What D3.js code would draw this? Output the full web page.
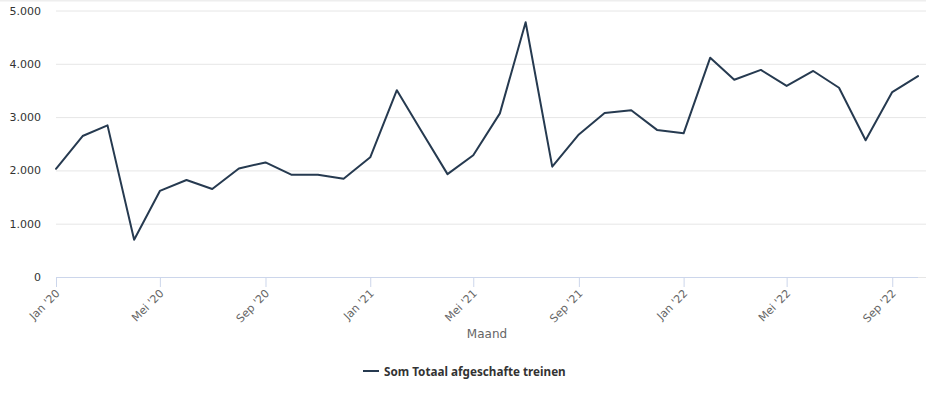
<!DOCTYPE html>
<html>
<head>
<meta charset="utf-8">
<script src="https://cdn.jsdelivr.net/npm/d3@7"></script>
<style>
  body { margin: 0; background: #fff; }
  svg { display: block; font-family: "DejaVu Sans", sans-serif; }
</style>
</head>
<body>
<div id="root"></div>
<script>
const width = 926;
const height = 395;

// months Jan '20 .. Oct '22
const months = [
  "2020-01", "2020-02", "2020-03", "2020-04", "2020-05", "2020-06",
  "2020-07", "2020-08", "2020-09", "2020-10", "2020-11", "2020-12",
  "2021-01", "2021-02", "2021-03", "2021-04", "2021-05", "2021-06",
  "2021-07", "2021-08", "2021-09", "2021-10", "2021-11", "2021-12",
  "2022-01", "2022-02", "2022-03", "2022-04", "2022-05", "2022-06",
  "2022-07", "2022-08", "2022-09", "2022-10"
];
const afgeschafte = [
  2030, 2645, 2845, 700, 1615, 1820, 1650, 2035, 2150, 1920, 1920, 1845,
  2245, 3505, 2755, 1930, 2285, 3070, 4780, 2070, 2675, 3075, 3130, 2760,
  2695, 4115, 3700, 3885, 3585, 3865, 3550, 2565, 3470, 3770
];
const yTicks = [0, 1000, 2000, 3000, 4000, 5000];
const monthNames = ["Jan", "Feb", "Mrt", "Apr", "Mei", "Jun", "Jul", "Aug", "Sep", "Okt", "Nov", "Dec"];
const seriesName = "Som Totaal afgeschafte treinen";
const xTitle = "Maand";

const parse = d3.timeParse("%Y-%m");
const data = months.map((m, i) => ({ date: parse(m), value: afgeschafte[i] }));

const margin = { top: 10.5, right: 8, bottom: 118, left: 56 };

const x = d3.scaleTime()
  .domain(d3.extent(data, d => d.date))
  .range([margin.left, width - margin.right]);

const y = d3.scaleLinear()
  .domain([0, 5000])
  .range([height - margin.bottom, margin.top]);

const fmt = d3.formatLocale({ decimal: ",", thousands: ".", grouping: [3], currency: ["€", ""] }).format(",d");

const svg = d3.select("#root")
  .append("svg")
  .attr("width", width)
  .attr("height", height);

// faint top border
svg.append("rect")
  .attr("x", 0).attr("y", 0)
  .attr("width", width).attr("height", 1.5)
  .attr("fill", "#eeeeee");

// grid + y labels
const yAxis = svg.append("g")
  .attr("transform", `translate(${margin.left},0)`)
  .call(d3.axisLeft(y).tickValues(yTicks).tickFormat(fmt)
    .tickSize(-(width - margin.left)).tickPadding(15));
yAxis.select(".domain").remove();
yAxis.selectAll(".tick line").attr("stroke", "#e6e6e6");
yAxis.selectAll(".tick text")
  .attr("fill", "#333")
  .attr("font-size", 11)
  .attr("font-family", "DejaVu Sans, sans-serif");

// x axis
const xTickDates = d3.timeMonth.every(4).range(data[0].date, d3.timeDay.offset(data[data.length - 1].date, 1));
const xAxis = svg.append("g")
  .attr("transform", `translate(0,${y(0)})`)
  .call(d3.axisBottom(x).tickValues(xTickDates)
    .tickFormat(d => `${monthNames[d.getMonth()]} '${String(d.getFullYear()).slice(2)}`)
    .tickSize(10).tickSizeOuter(0));
xAxis.select(".domain").attr("stroke", "#ccd6eb").attr("d", `M${margin.left},0.5H${width - margin.right}`);
xAxis.selectAll(".tick line").attr("stroke", "#ccd6eb");
xAxis.selectAll(".tick text")
  .attr("fill", "#666")
  .attr("font-size", 11)
  .attr("font-family", "DejaVu Sans, sans-serif")
  .attr("text-anchor", "end")
  .attr("dy", null)
  .attr("y", 0)
  .attr("transform", "translate(4,17) rotate(-45)");

svg.append("text")
  .attr("x", (margin.left + width - margin.right) / 2)
  .attr("y", 338)
  .attr("text-anchor", "middle")
  .attr("fill", "#666")
  .attr("font-size", 12)
  .text(xTitle);

// series line
const line = d3.line()
  .x(d => x(d.date))
  .y(d => y(d.value));

svg.append("path")
  .datum(data)
  .attr("fill", "none")
  .attr("stroke", "#263a50")
  .attr("stroke-width", 2)
  .attr("stroke-linejoin", "round")
  .attr("stroke-linecap", "round")
  .attr("d", line);

// legend
const legend = svg.append("g").attr("transform", "translate(363,371)");
legend.append("line")
  .attr("x1", 0).attr("x2", 16)
  .attr("stroke", "#263a50")
  .attr("stroke-width", 2);
legend.append("text")
  .attr("x", 21)
  .attr("y", 5)
  .attr("fill", "#333")
  .attr("font-size", 11.7)
  .attr("font-weight", "bold")
  .attr("font-family", "Noto Sans, sans-serif")
  .text(seriesName);
</script>
</body>
</html>
